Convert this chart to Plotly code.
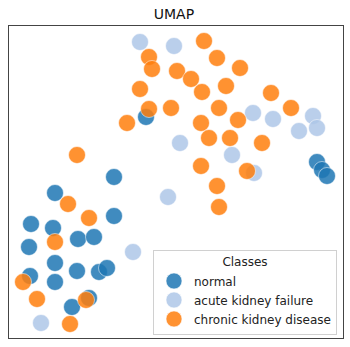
import plotly.graph_objects as go

# Embedding coordinates
normal_x = [146, 114, 55, 114, 31, 53, 29, 78, 94, 55, 30, 77, 99, 107, 55, 89, 72, 317, 322, 327]
normal_y = [117, 177, 193, 216, 224, 228, 247, 239, 237, 263, 276, 271, 272, 268, 282, 298, 307, 162, 170, 176]

akf_x = [140, 174, 253, 273, 313, 299, 317, 180, 232, 254, 168, 133, 41]
akf_y = [42, 46, 113, 119, 116, 131, 128, 143, 155, 173, 197, 252, 323]

ckd_x = [149, 152, 177, 140, 149, 171, 127, 77, 204, 217, 240, 191, 202, 226, 271, 219, 291,
         201, 238, 209, 230, 262, 201, 247, 217, 219, 68, 89, 55, 23, 37, 86, 70]
ckd_y = [57, 69, 71, 89, 109, 108, 123, 155, 41, 58, 68, 79, 92, 86, 93, 108, 108,
         123, 120, 138, 138, 143, 166, 171, 186, 207, 204, 218, 242, 282, 299, 300, 324]

classes = ["normal", "acute kidney failure", "chronic kidney disease"]
colors = ["#1f77b4", "#aec7e8", "#ff7f0e"]

H = 347
fig = go.Figure()
for name, xs, ys, c in zip(classes, [normal_x, akf_x, ckd_x], [normal_y, akf_y, ckd_y], colors):
    fig.add_trace(go.Scatter(
        x=xs, y=[H - v for v in ys], mode="markers", name=name,
        marker=dict(size=17, color=c, opacity=0.85, line=dict(color="white", width=0.6)),
    ))

axis_common = dict(showticklabels=False, ticks="", showgrid=False, zeroline=False,
                   showline=True, mirror=True, linecolor="#444", linewidth=1, automargin=False)

fig.update_layout(
    width=350, height=347,
    margin=dict(l=9, r=7, t=26, b=9, pad=0, autoexpand=False),
    paper_bgcolor="white", plot_bgcolor="white",
    font=dict(family="DejaVu Sans", size=12, color="#222"),
    title=dict(text="UMAP", x=0.497, xanchor="center", y=0.96, yanchor="middle",
               font=dict(size=14, color="#111")),
    xaxis=dict(range=[9, 343], **axis_common),
    yaxis=dict(range=[H - 338, H - 26], **axis_common),
    legend=dict(
        title=dict(text="Classes", side="top center", font=dict(size=12)),
        x=0.982, xanchor="right", y=0.01, yanchor="bottom",
        bgcolor="rgba(255,255,255,0.85)", bordercolor="#d0d0d0", borderwidth=1,
        font=dict(size=12), itemsizing="trace", tracegroupgap=0,
    ),
    showlegend=True,
)

fig.write_html("out.html", config={"displayModeBar": False},
               post_script="document.body.style.margin='0';document.body.style.overflow='hidden';")
